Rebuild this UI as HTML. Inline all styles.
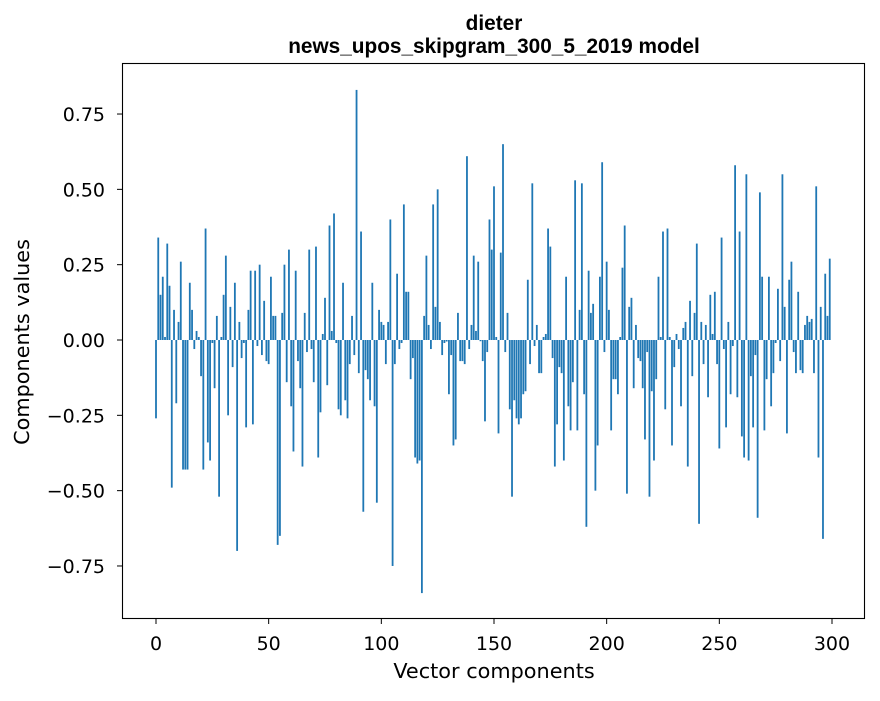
<!DOCTYPE html>
<html><head><meta charset="utf-8"><style>
body{margin:0;background:#fff;}
svg text{font-family:"DejaVu Sans","Liberation Sans",sans-serif;fill:#000;}
svg text.ttl{font-family:"Liberation Sans","DejaVu Sans",sans-serif;}
</style></head><body>
<svg id="chart" width="880" height="696" viewBox="0 0 880 696" xmlns="http://www.w3.org/2000/svg">
<rect width="880" height="696" fill="#fff"/>
<text class="ttl" x="494" y="30" text-anchor="middle" font-size="20.8" font-weight="bold">dieter</text>
<text class="ttl" x="494" y="53" text-anchor="middle" font-size="20.8" font-weight="bold">news_upos_skipgram_300_5_2019 model</text>
<g id="bars"></g>
<rect x="122.5" y="63.5" width="742" height="555" fill="none" stroke="#000" stroke-width="1.1"/>
<g id="xticks"></g>
<g id="yticks"></g>
<text x="494" y="678" text-anchor="middle" font-size="20.8">Vector components</text>
<text transform="translate(29,342) rotate(-90)" text-anchor="middle" font-size="20.8">Components values</text>
</svg>
<script>
const values = [
-0.26,0.34,0.15,0.21,0.01,0.32,0.18,-0.49,0.10,-0.21,
0.06,0.26,-0.43,-0.43,-0.43,0.19,0.10,-0.03,0.03,0.01,
-0.12,-0.43,0.37,-0.34,-0.40,-0.01,-0.16,0.08,-0.52,0.01,
0.15,0.28,-0.25,0.11,-0.09,0.19,-0.70,0.06,-0.06,-0.01,
-0.29,0.10,0.23,-0.28,0.23,-0.02,0.25,-0.05,0.13,-0.07,
-0.08,0.21,0.08,0.08,-0.68,-0.65,0.09,0.25,-0.14,0.30,
-0.22,-0.37,0.23,-0.07,-0.16,-0.42,0.09,-0.04,0.30,-0.03,
-0.14,0.31,-0.39,-0.24,0.02,0.14,-0.15,0.38,0.03,0.42,
-0.01,-0.23,-0.25,0.19,-0.20,-0.26,-0.08,0.08,-0.05,0.83,
-0.11,0.36,-0.57,-0.10,-0.13,-0.20,0.19,-0.22,-0.54,0.10,
0.06,0.05,-0.08,0.06,0.40,-0.75,-0.08,0.22,-0.03,-0.01,
0.45,0.16,0.16,-0.13,-0.06,-0.39,-0.41,-0.40,-0.84,0.08,
0.28,0.05,-0.03,0.45,0.11,0.50,0.06,-0.05,-0.01,-0.005,
-0.18,-0.05,-0.35,-0.33,0.09,-0.07,-0.07,-0.08,0.61,-0.03,
0.05,0.28,0.03,0.26,-0.004,-0.07,-0.27,-0.04,0.40,0.30,
0.51,0.01,-0.31,0.29,0.65,-0.04,0.09,-0.23,-0.52,-0.20,
-0.26,-0.28,-0.26,-0.18,-0.17,0.20,-0.08,0.52,-0.02,0.05,
-0.11,-0.11,0.01,0.02,0.37,0.31,-0.06,-0.42,-0.28,-0.09,
-0.11,-0.40,0.21,-0.22,-0.30,-0.14,0.53,-0.30,0.10,0.52,
-0.18,-0.62,0.23,0.09,0.12,-0.50,-0.35,0.21,0.59,-0.04,
0.26,0.10,-0.30,-0.13,-0.13,-0.18,0.01,0.24,0.38,-0.51,
0.11,0.14,-0.16,0.05,-0.06,-0.07,-0.16,-0.33,-0.04,-0.52,
-0.17,-0.40,-0.13,0.21,0.01,0.36,-0.23,0.37,0.01,-0.35,
-0.09,0.02,-0.03,-0.22,0.04,0.06,-0.42,0.13,-0.12,0.09,
0.32,-0.61,0.06,-0.08,0.05,-0.19,0.15,0.02,0.16,-0.08,
-0.36,0.34,-0.03,-0.29,0.06,-0.18,-0.02,0.58,-0.19,0.36,
-0.32,-0.39,0.55,-0.40,-0.12,-0.29,-0.05,-0.59,0.49,0.21,
-0.30,-0.13,0.21,-0.22,-0.11,-0.01,0.17,-0.07,0.55,0.11,
-0.31,0.20,0.26,-0.04,-0.11,0.16,-0.10,-0.11,0.05,0.08,
0.06,0.07,-0.11,0.51,-0.39,0.11,-0.66,0.22,0.08,0.27
];
const xTicks = [0,50,100,150,200,250,300];
const yTicks = [0.75,0.50,0.25,0.00,-0.25,-0.50,-0.75];
const yTickLabels = ["0.75","0.50","0.25","0.00","\u22120.25","\u22120.50","\u22120.75"];

const NS = "http://www.w3.org/2000/svg";
const X0 = 156, XS = 2.2533;
const Y0 = 340, YS = 301.3;
const xPos = v => X0 + v * XS;
const yPos = v => Y0 - v * YS;

const barsG = document.getElementById('bars');
values.forEach((v, i) => {
  const r = document.createElementNS(NS, 'rect');
  const w = 0.8 * XS;
  r.setAttribute('x', xPos(i) - w / 2);
  r.setAttribute('width', w);
  const y1 = yPos(Math.max(v, 0)), y2 = yPos(Math.min(v, 0));
  r.setAttribute('y', y1);
  r.setAttribute('height', Math.max(y2 - y1, 0));
  r.setAttribute('fill', '#1f77b4');
  
  
  barsG.appendChild(r);
});

const xg = document.getElementById('xticks');
xTicks.forEach(t => {
  const l = document.createElementNS(NS, 'line');
  l.setAttribute('x1', xPos(t)); l.setAttribute('x2', xPos(t));
  l.setAttribute('y1', 618.5); l.setAttribute('y2', 624);
  l.setAttribute('stroke', '#000');
  
  
  xg.appendChild(l);
  const tx = document.createElementNS(NS, 'text');
  tx.setAttribute('x', xPos(t)); tx.setAttribute('y', 650);
  tx.setAttribute('text-anchor', 'middle'); tx.setAttribute('font-size', '19');
  tx.textContent = String(t);
  
  
  xg.appendChild(tx);
});

const yg = document.getElementById('yticks');
yTicks.forEach((t, k) => {
  const l = document.createElementNS(NS, 'line');
  l.setAttribute('x1', 117); l.setAttribute('x2', 122.5);
  l.setAttribute('y1', yPos(t)); l.setAttribute('y2', yPos(t));
  l.setAttribute('stroke', '#000');
  
  
  yg.appendChild(l);
  const tx = document.createElementNS(NS, 'text');
  tx.setAttribute('x', 105); tx.setAttribute('y', yPos(t) + 7);
  tx.setAttribute('text-anchor', 'end'); tx.setAttribute('font-size', '19');
  tx.textContent = yTickLabels[k];
  
  
  yg.appendChild(tx);
});
</script>
</body></html>
